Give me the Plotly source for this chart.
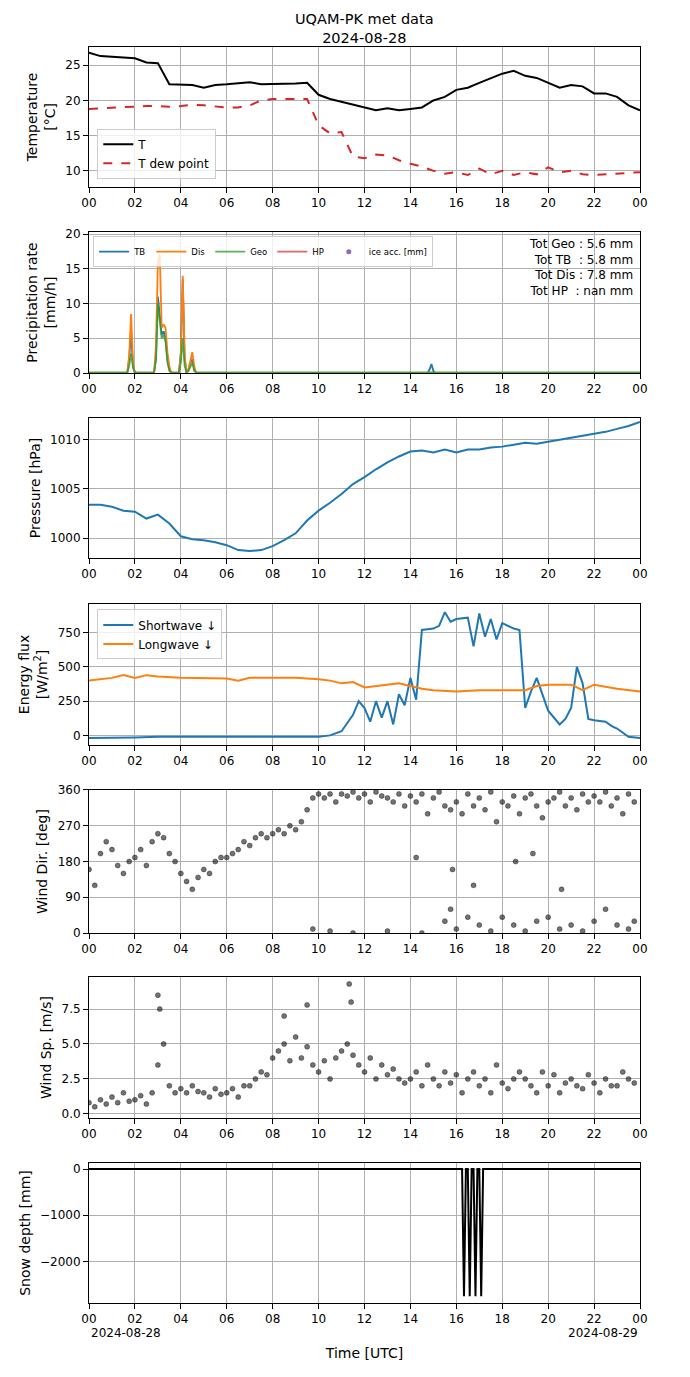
import pandas as pd
import plotly.graph_objects as go
from plotly.subplots import make_subplots

DAY = "2024-08-28"

# ---- temperature, 30 min steps 00:00 -> 24:00
temp_T = [26.8, 26.3, 26.2, 26.1, 26.0, 25.4, 25.3, 22.3, 22.2, 22.2, 21.8, 22.2, 22.3, 22.5, 22.6, 22.3,
          22.3, 22.4, 22.4, 22.5, 20.8, 20.2, 19.8, 19.4, 19.0, 18.6, 18.9, 18.6, 18.8, 19.0, 20.0, 20.5,
          21.5, 21.8, 22.5, 23.2, 23.8, 24.2, 23.5, 23.2, 22.5, 21.8, 22.2, 22.0, 21.0, 21.0, 20.5, 19.3, 18.6]
temp_Td = [18.8, 18.9, 19.0, 19.0, 19.2, 19.2, 19.2, 19.1, 19.2, 19.4, 19.3, 19.1, 19.0, 19.0, 19.3, 20.0,
           20.2, 20.2, 20.2, 20.2, 16.5, 15.3, 15.5, 12.0, 11.8, 12.3, 12.2, 11.5, 11.0, 10.6, 10.0, 9.6,
           9.8, 9.4, 10.3, 9.5, 10.0, 9.4, 9.8, 9.5, 10.5, 9.8, 10.0, 9.5, 9.4, 9.5, 9.6, 9.7, 9.8]

# ---- precipitation rate [mm/h]
pr_times = ["00:00", "01:40", "01:45", "01:50", "01:55", "02:00", "02:50", "02:55", "03:00", "03:05",
            "03:10", "03:15", "03:20", "03:25", "03:30", "03:35", "03:40", "03:55", "04:00", "04:05",
            "04:10", "04:15", "04:20", "04:25", "04:30", "04:35", "04:40", "14:45", "14:50", "14:55",
            "15:00", "15:05", "24:00"]
pr_TB = [0, 0, 2.0, 6.0, 1.0, 0, 0, 2.0, 11.0, 8.0, 5.5, 6.0, 5.0, 2.0, 0.5, 0, 0, 0, 3.0, 13.5,
         2.0, 0, 0.5, 1.5, 2.0, 0.5, 0, 0, 0.5, 1.3, 0.3, 0, 0]
pr_Dis = [0, 0, 2.5, 8.5, 1.5, 0, 0, 4.0, 16.0, 17.0, 6.5, 7.0, 6.5, 3.0, 1.0, 0, 0, 0, 2.5, 14.0,
          2.5, 0, 0.5, 2.0, 3.0, 1.0, 0, 0, 0, 0, 0, 0, 0]
pr_Geo = [0.1, 0.1, 1.0, 2.8, 0.8, 0.1, 0.1, 2.0, 10.0, 7.0, 5.0, 5.5, 4.5, 1.5, 0.3, 0.1, 0.1, 0.1,
          1.5, 5.0, 1.0, 0.1, 0.3, 1.0, 1.5, 0.3, 0.1, 0.1, 0.1, 0.1, 0.1, 0.1, 0.1]

# ---- pressure, 30 min steps
pres = [1003.4, 1003.4, 1003.2, 1002.8, 1002.7, 1002.0, 1002.4, 1001.5, 1000.2, 999.9, 999.8, 999.6,
        999.3, 998.8, 998.7, 998.8, 999.2, 999.8, 1000.5, 1001.8, 1002.8, 1003.6, 1004.5, 1005.5,
        1006.2, 1007.0, 1007.7, 1008.3, 1008.8, 1008.9, 1008.7, 1009.0, 1008.7, 1009.0, 1009.0, 1009.2,
        1009.3, 1009.5, 1009.7, 1009.6, 1009.8, 1010.0, 1010.2, 1010.4, 1010.6, 1010.8, 1011.1, 1011.4, 1011.8]

# ---- radiation
sw_times = ["00:00", "01:00", "02:00", "03:00", "04:00", "05:00", "06:00", "07:00", "08:00", "09:00",
            "10:00", "10:30", "11:00", "11:30", "11:45", "12:00", "12:15", "12:30", "12:45", "13:00",
            "13:15", "13:30", "13:45", "14:00", "14:15", "14:30", "15:00", "15:15", "15:30", "15:45",
            "16:00", "16:30", "16:45", "17:00", "17:15", "17:30", "17:45", "18:00", "18:30", "18:45",
            "19:00", "19:15", "19:30", "19:45", "20:00", "20:30", "20:45", "21:00", "21:15", "21:30",
            "21:45", "22:00", "22:30", "22:45", "23:00", "23:30", "24:00"]
sw = [-20, -20, -15, -10, -10, -12, -10, -12, -10, -10, -10, 0, 30, 150, 250, 200, 100, 250, 130, 250,
      80, 300, 220, 420, 260, 770, 780, 800, 900, 830, 850, 860, 650, 890, 720, 850, 700, 820, 780, 770,
      200, 320, 420, 300, 180, 80, 120, 200, 500, 380, 120, 110, 100, 70, 50, -10, -20]
lw_times = ["00:00", "01:00", "01:30", "02:00", "02:30", "03:00", "04:00", "05:00", "06:00", "06:30",
            "07:00", "08:00", "09:00", "10:00", "10:30", "11:00", "11:30", "12:00", "12:30", "13:00",
            "13:30", "14:00", "14:30", "15:00", "16:00", "17:00", "18:00", "19:00", "19:30", "20:00",
            "21:00", "21:30", "22:00", "23:00", "24:00"]
lw = [400, 420, 440, 420, 440, 430, 420, 420, 415, 400, 420, 420, 420, 410, 400, 380, 390, 350, 360, 370,
      380, 360, 340, 330, 320, 330, 330, 330, 360, 370, 370, 330, 370, 340, 320]

# ---- wind direction, 15 min steps from 00:00
wdir = [160, 120, 200, 230, 210, 170, 150, 180, 190, 210, 170, 230, 250, 240, 200, 180,
        150, 130, 110, 140, 160, 150, 180, 190, 190, 200, 210, 230, 220, 240, 250, 240,
        250, 260, 250, 270, 260, 280, 310, 340, 350, 340, 350, 330, 350, 345, 355, 340,
        350, 330, 355, 345, 340, 330, 350, 320, 345, 330, 350, 300, 340, 355, 320, 310,
        330, 300, 350, 320, 340, 310, 355, 280, 330, 320, 345, 300, 340, 350, 320, 290,
        330, 340, 355, 320, 340, 310, 350, 330, 345, 330, 355, 320, 340, 300, 350, 330]
wdir_x_times = ["09:45", "10:30", "11:30", "13:00", "14:15", "14:30", "15:30", "15:45", "15:50", "16:00",
                "16:30", "16:45", "17:00", "17:30", "18:00", "18:30", "18:35", "19:00", "19:20", "19:30",
                "20:00", "20:30", "20:35", "21:00", "21:30", "22:00", "22:30", "23:00", "23:30", "23:45"]
wdir_x = [10, 5, 0, 5, 190, 0, 30, 60, 160, 10, 40, 120, 20, 5, 40, 20, 180, 5, 200, 30,
          40, 10, 110, 20, 5, 30, 60, 20, 10, 30]

# ---- wind speed, 15 min steps from 00:00
wspd = [0.8, 0.5, 1.0, 0.7, 1.2, 0.8, 1.5, 0.9, 1.0, 1.3, 0.7, 1.5, 3.5, 5.0, 2.0, 1.5,
        1.8, 1.5, 2.0, 1.6, 1.5, 1.2, 1.8, 1.4, 1.5, 1.8, 1.2, 2.0, 2.0, 2.5, 3.0, 2.8,
        4.0, 4.5, 5.0, 3.8, 5.5, 4.0, 4.8, 3.5, 3.0, 3.8, 2.5, 4.0, 4.5, 5.0, 4.2, 3.5,
        3.0, 4.0, 2.5, 3.5, 2.8, 3.2, 2.5, 2.2, 2.5, 3.0, 2.0, 3.5, 2.5, 2.0, 3.0, 2.2,
        2.8, 1.5, 2.5, 3.0, 2.0, 2.5, 1.5, 3.5, 2.2, 1.8, 2.5, 3.0, 2.5, 2.0, 1.5, 3.0,
        2.0, 2.8, 1.5, 2.2, 2.5, 2.0, 1.8, 2.8, 2.2, 1.5, 2.5, 2.0, 2.0, 3.0, 2.5, 2.2]
wspd_x_times = ["03:00", "03:05", "08:30", "09:30", "11:20", "11:25"]
wspd_x = [8.5, 7.5, 7.0, 7.8, 9.3, 8.0]

# ---- snow depth
sd_times = ["00:00", "16:15", "16:20", "16:25", "16:30", "16:35", "16:40", "16:45", "16:50", "16:55",
            "17:00", "17:05", "17:10", "24:00"]
sd = [0, 0, -2750, 0, 0, -2750, 0, 0, -2750, 0, 0, -2750, 0, 0]


def tt(hm_list):
    return [pd.Timestamp(DAY) + pd.Timedelta(hours=int(s[:2]), minutes=int(s[3:])) for s in hm_list]


t30 = pd.date_range(DAY, periods=49, freq="30min")
t15 = pd.date_range(DAY, periods=96, freq="15min")

# page body has an 8px margin, so everything is pulled up/left by that much
DY = 8 / 1377
XD = [81 / 690, 632 / 690]
dom = [(0.8642 + DY, 0.9659 + DY), (0.7291 + DY, 0.8315 + DY), (0.5948 + DY, 0.6964 + DY),
       (0.4590 + DY, 0.5614 + DY), (0.3224 + DY, 0.4263 + DY), (0.1881 + DY, 0.2905 + DY),
       (0.0537 + DY, 0.1554 + DY)]

fig = make_subplots(rows=7, cols=1)

L = "lines"
fig.add_trace(go.Scatter(x=t30, y=temp_T, mode=L, name="T", line=dict(color="black", width=2), legend="legend"), 1, 1)
fig.add_trace(go.Scatter(x=t30, y=temp_Td, mode=L, name="T dew point",
                         line=dict(color="#d62728", width=2, dash="dash"), legend="legend"), 1, 1)

pt = tt(pr_times)
fig.add_trace(go.Scatter(x=pt, y=pr_TB, mode=L, name="TB", line=dict(color="#1f77b4", width=1.8), legend="legend2"), 2, 1)
fig.add_trace(go.Scatter(x=pt, y=pr_Dis, mode=L, name="Dis", line=dict(color="#ff7f0e", width=1.8), legend="legend2"), 2, 1)
fig.add_trace(go.Scatter(x=pt, y=pr_Geo, mode=L, name="Geo", line=dict(color="#2ca02c", width=1.8), opacity=0.8,
                         legend="legend2"), 2, 1)
fig.add_trace(go.Scatter(x=[pt[0]], y=[None], mode=L, name="HP", line=dict(color="#d62728", width=1.8), opacity=0.7,
                         legend="legend2"), 2, 1)
fig.add_trace(go.Scatter(x=[pt[0]], y=[None], name="ice acc. [mm]", mode="markers",
                         marker=dict(color="#9467bd", size=5), legend="legend2"), 2, 1)

fig.add_trace(go.Scatter(x=t30, y=pres, mode=L, line=dict(color="#1f77b4", width=2), showlegend=False), 3, 1)

fig.add_trace(go.Scatter(x=tt(sw_times), y=sw, mode=L, name="Shortwave ↓", line=dict(color="#1f77b4", width=2),
                         legend="legend3"), 4, 1)
fig.add_trace(go.Scatter(x=tt(lw_times), y=lw, mode=L, name="Longwave ↓", line=dict(color="#ff7f0e", width=2),
                         legend="legend3"), 4, 1)

mk = dict(color="rgba(0,0,0,0.55)", size=5, line=dict(color="rgba(0,0,0,0.7)", width=0.5))
fig.add_trace(go.Scatter(x=t15, y=wdir, mode="markers", marker=mk, showlegend=False), 5, 1)
fig.add_trace(go.Scatter(x=tt(wdir_x_times), y=wdir_x, mode="markers", marker=mk, showlegend=False), 5, 1)
fig.add_trace(go.Scatter(x=t15, y=wspd, mode="markers", marker=mk, showlegend=False), 6, 1)
fig.add_trace(go.Scatter(x=tt(wspd_x_times), y=wspd_x, mode="markers", marker=mk, showlegend=False), 6, 1)

fig.add_trace(go.Scatter(x=tt(sd_times), y=sd, mode=L, line=dict(color="black", width=2), showlegend=False), 7, 1)

xr = [pd.Timestamp(DAY), pd.Timestamp("2024-08-29")]
for i in range(7):
    fig.update_xaxes(row=i + 1, col=1, domain=XD, range=xr, dtick=7200000, tickformat="%H",
                     showline=True, mirror=True, linecolor="black", ticks="outside", tickcolor="black",
                     gridcolor="#b0b0b0", showgrid=True, automargin=False)
    fig.update_yaxes(row=i + 1, col=1, domain=list(dom[i]), showline=True, mirror=True, linecolor="black",
                     ticks="outside", tickcolor="black", gridcolor="#b0b0b0", zeroline=False, automargin=False)
fig.update_xaxes(row=7, col=1, title_text="Time [UTC]", title_standoff=22)

yset = [("Temperature<br>[°C]", [7.7, 27.6], [10, 15, 20, 25]),
        ("Precipitation rate<br>[mm/h]", [0, 20.3], [0, 5, 10, 15, 20]),
        ("Pressure [hPa]", [998, 1012.2], [1000, 1005, 1010]),
        ("Energy flux<br>[W/m<sup>2</sup>]", [-70, 960], [0, 250, 500, 750]),
        ("Wind Dir. [deg]", [0, 360], [0, 90, 180, 270, 360]),
        ("Wind Sp. [m/s]", [-0.3, 9.8], [0, 2.5, 5, 7.5]),
        ("Snow depth [mm]", [-2900, 130], [0, -1000, -2000])]
for i, (title, rng, tv) in enumerate(yset):
    fig.update_yaxes(row=i + 1, col=1, title_text=title, range=rng, tickvals=tv, title_standoff=6)
fig.update_yaxes(row=6, col=1, ticktext=["0.0", "2.5", "5.0", "7.5"])

fig.add_annotation(text="Tot Geo : 5.6 mm<br>Tot TB  : 5.8 mm<br>Tot Dis : 7.8 mm<br>Tot HP  : nan mm",
                   xref="paper", yref="paper", x=XD[1] - 0.007, y=0.829 + DY, xanchor="right", yanchor="top",
                   align="right", showarrow=False, font=dict(size=12, color="black"))
for x, lab in [(XD[0], "2024-08-28"), (XD[1], "2024-08-29")]:
    fig.add_annotation(text=lab, xref="paper", yref="paper", x=x, y=dom[6][0], yanchor="middle", yshift=-30,
                       showarrow=False, font=dict(size=12, color="black"))
fig.add_annotation(text="UQAM-PK met data<br>2024-08-28", xref="paper", yref="paper", x=0.516, y=0.9995,
                   xanchor="center", yanchor="top", showarrow=False, font=dict(size=14.5, color="black"))

fig.update_layout(
    width=690, height=1377, margin=dict(l=0, r=0, t=0, b=0),
    paper_bgcolor="white", plot_bgcolor="white",
    font=dict(family="DejaVu Sans", size=12, color="black"),
    legend=dict(x=XD[0] + 0.012, y=dom[0][0] + 0.006, xanchor="left", yanchor="bottom", bordercolor="#cccccc",
                borderwidth=1, bgcolor="rgba(255,255,255,0.8)"),
    legend2=dict(x=XD[0] + 0.006, y=dom[1][1] - 0.003, xanchor="left", yanchor="top", orientation="h",
                 bordercolor="#cccccc", borderwidth=1, font=dict(size=8.5), bgcolor="rgba(255,255,255,0.8)"),
    legend3=dict(x=XD[0] + 0.012, y=dom[3][1] - 0.004, xanchor="left", yanchor="top", bordercolor="#cccccc",
                 borderwidth=1, bgcolor="rgba(255,255,255,0.8)"),
)

fig.write_html("out.html")
